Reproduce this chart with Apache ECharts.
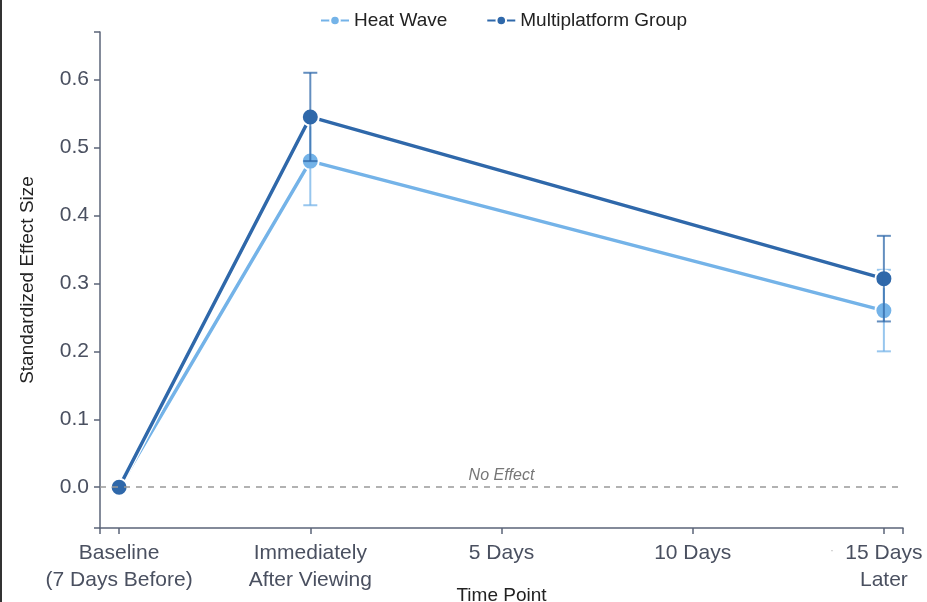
<!DOCTYPE html>
<html><head><meta charset="utf-8">
<script src="https://cdn.jsdelivr.net/npm/echarts@6/dist/echarts.min.js"></script>
<style>html,body{margin:0;padding:0;background:#fff}#c{width:927px;height:602px}</style>
</head><body><div id="c"></div>
<script>
const categories = ['Baseline\n(7 Days Before)', 'Immediately\nAfter Viewing', '5 Days', '10 Days', '15 Days\nLater'];
const catIndex = [0, 1, 4];
const heatWave = [0, 0.48, 0.26];
const heatLow = [null, 0.415, 0.20];
const heatHigh = [null, 0.545, 0.32];
const multi = [0, 0.545, 0.307];
const multiLow = [null, 0.48, 0.244];
const multiHigh = [null, 0.61, 0.37];
const yTicks = [0, 0.1, 0.2, 0.3, 0.4, 0.5, 0.6];
const yMin = -0.06, yMax = 0.67;
const xMin = -0.1, xMax = 4.1;

const cLight = '#74b3e8', cDark = '#2f68aa';
const font = 'Liberation Sans, Arial, sans-serif';
const axisColor = '#5b6478';

function pts(vals){ return vals.map((v,i)=>[catIndex[i], v]); }
function errData(lo, hi){ return lo.map((l,i)=> l==null?null:[catIndex[i], l, hi[i]]).filter(d=>d); }
function errSeries(name, lo, hi, color, z){
  return {
    type:'custom', name: name, z: z, silent:true,
    data: errData(lo, hi),
    renderItem: function(params, api){
      const x = api.value(0);
      const p1 = api.coord([x, api.value(1)]);
      const p2 = api.coord([x, api.value(2)]);
      const w = 7;
      const st = {stroke: color, lineWidth: 2, opacity: 0.75};
      return {type:'group', children:[
        {type:'line', shape:{x1:p1[0], y1:p1[1], x2:p2[0], y2:p2[1]}, style: st},
        {type:'line', shape:{x1:p1[0]-w, y1:p1[1], x2:p1[0]+w, y2:p1[1]}, style: st},
        {type:'line', shape:{x1:p2[0]-w, y1:p2[1], x2:p2[0]+w, y2:p2[1]}, style: st}
      ]};
    }
  };
}
function halo(vals, z){
  return {type:'line', name:'halo'+z, z:z, data: pts(vals), silent:true, symbol:'none',
    lineStyle:{color:'#fff', width:6}};
}

const chart = echarts.init(document.getElementById('c'));
chart.setOption({
  animation:false,
  textStyle:{fontFamily: font},
  legend:{
    top: 6, left: 315, itemWidth: 28, itemHeight: 12, itemGap: 39,
    data:['Heat Wave','Multiplatform Group'],
    textStyle:{fontSize:19, color:'#222', fontFamily: font}
  },
  grid:{left:100, right:24, top:32, bottom:74, outerBoundsMode:'none', containLabel:false},
  xAxis:{
    type:'value', min:xMin, max:xMax,
    name:'Time Point', nameLocation:'middle', nameGap:58, nameMoveOverlap:false,
    nameTextStyle:{fontSize:19, color:'#222'},
    splitLine:{show:false},
    axisLine:{show:true, onZero:false, lineStyle:{color:axisColor, width:1.5}},
    axisTick:{show:true, length:6, lineStyle:{color:axisColor, width:1.5}, customValues:[xMin,0,1,2,3,4,xMax]},
    axisLabel:{fontSize:21, color:'#4a5060', margin:12, lineHeight:27,
      customValues:[0,1,2,3,4], formatter: v => categories[Math.round(v)]}
  },
  yAxis:{
    type:'value', min:yMin, max:yMax,
    name:'Standardized Effect Size', nameLocation:'middle', nameGap:63, nameMoveOverlap:false,
    nameTextStyle:{fontSize:19, color:'#222'},
    splitLine:{show:false},
    axisLine:{show:true, onZero:false, lineStyle:{color:axisColor, width:1.5}},
    axisTick:{show:true, length:6, lineStyle:{color:axisColor, width:1.5}, customValues:[yMin].concat(yTicks,[yMax])},
    axisLabel:{fontSize:21, color:'#4a5060', margin:11, customValues: yTicks, formatter: v => v.toFixed(1)}
  },
  series:[
    halo(heatWave, 1),
    {
      type:'line', name:'Heat Wave', z:2, data: pts(heatWave),
      lineStyle:{color:cLight, width:3.5}, itemStyle:{color:cLight, borderColor:'#fff', borderWidth:2},
      symbol:'circle', symbolSize:17,
      markLine:{silent:true, symbol:'none',
        lineStyle:{type:[6,6], color:'#999', width:1.5},
        label:{show:true, formatter:'No Effect', position:'insideMiddleTop', fontStyle:'italic', fontSize:16, color:'#777', distance:4},
        data:[{yAxis:0}]}
    },
    errSeries('Heat Wave', heatLow, heatHigh, cLight, 3),
    halo(multi, 3),
    {
      type:'line', name:'Multiplatform Group', z:4, data: pts(multi),
      lineStyle:{color:cDark, width:3.5}, itemStyle:{color:cDark, borderColor:'#fff', borderWidth:2},
      symbol:'circle', symbolSize:17
    },
    errSeries('Multiplatform Group', multiLow, multiHigh, cDark, 5)
  ],
  graphic:[
    {type:'rect', left:0, top:0, shape:{width:2, height:602}, style:{fill:'#333'}},
    {type:'text', left:830, top:545, style:{text:'·', fill:'#bbb', fontSize:12}}
  ]
});
</script></body></html>
